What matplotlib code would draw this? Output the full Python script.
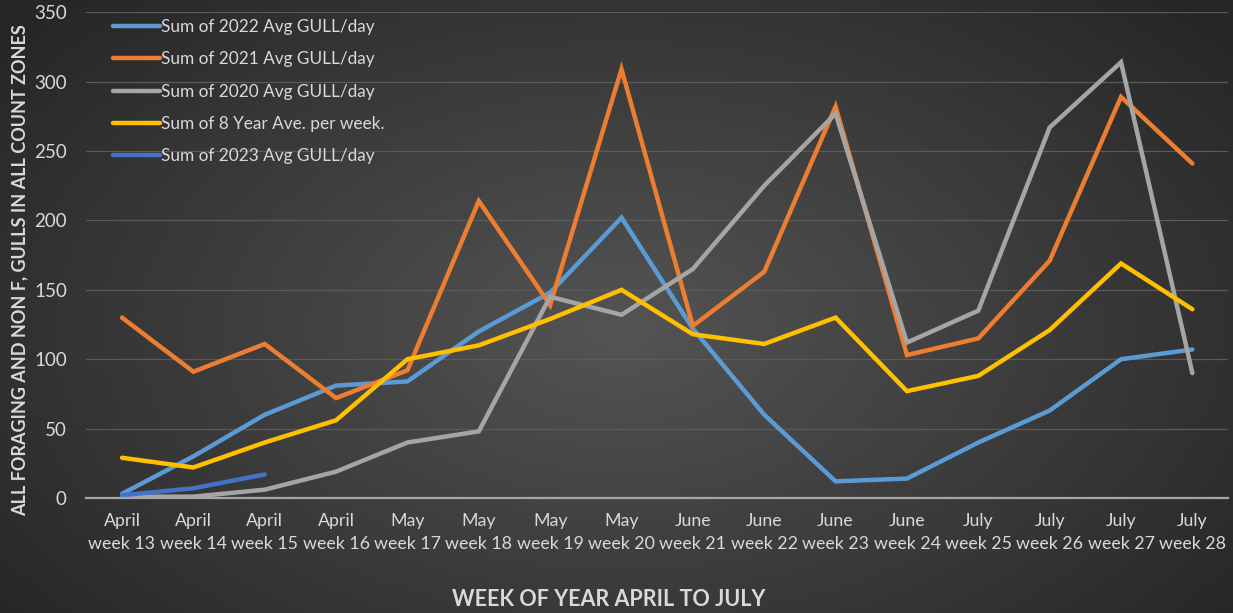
import numpy as np
import matplotlib.pyplot as plt

# Haftalık martı sayıları
months = ["April"] * 4 + ["May"] * 4 + ["June"] * 4 + ["July"] * 4
weeks = list(range(13, 29))
tick_labels = [f"{m}\nweek {w}" for m, w in zip(months, weeks)]

gull_2022 = [3, 30, 60, 81, 84, 120, 148, 202, 122, 60, 12, 14, 40, 63, 100, 107]
gull_2021 = [130, 91, 111, 72, 92, 214, 139, 309, 124, 163, 282, 103, 115, 171, 289, 241]
gull_2020 = [1, 1, 6, 19, 40, 48, 145, 132, 165, 225, 277, 112, 135, 267, 314, 90]
avg_8yr = [29, 22, 40, 56, 100, 110, 129, 150, 118, 111, 130, 77, 88, 121, 169, 136]
gull_2023 = [2, 7, 17]

series = [
    ("Sum of 2022 Avg GULL/day", gull_2022, "#5B9BD5"),
    ("Sum of 2021 Avg GULL/day", gull_2021, "#ED7D31"),
    ("Sum of 2020 Avg GULL/day", gull_2020, "#A5A5A5"),
    ("Sum of 8 Year Ave. per week.", avg_8yr, "#FFC000"),
    ("Sum of 2023 Avg GULL/day", gull_2023, "#4472C4"),
]

plt.rcParams['font.family'] = ['Lato', 'DejaVu Sans']
text_col = "#D9D9D9"

fig = plt.figure(figsize=(12.33, 6.13), dpi=100)

# koyu radyal arka plan
bg = fig.add_axes([0, 0, 1, 1], zorder=0)
yy, xx = np.mgrid[0:613, 0:1233]
r = np.sqrt(((xx - 620) / 700) ** 2 + ((yy - 330) / 420) ** 2)
shade = np.clip(0.33 - 0.16 * r, 0.15, 0.33)
bg.imshow(np.dstack([shade] * 3), aspect='auto', extent=[0, 1, 0, 1])
bg.axis('off')

ax = fig.add_axes([0.0700, 0.1876, 0.9260, 0.7924], zorder=1)
ax.patch.set_alpha(0)

x = np.arange(len(weeks))
for label, vals, col in series:
    ax.plot(x[:len(vals)], vals, color=col, lw=3.2, label=label,
            solid_capstyle='round', solid_joinstyle='miter')

ax.set_xlim(-0.5, len(weeks) - 0.5)
ax.set_ylim(0, 350)
ax.set_yticks(range(0, 351, 50))
ax.set_xticks(x)
ax.set_xticklabels(tick_labels, fontsize=12.8, color=text_col, linespacing=1.5)
ax.tick_params(axis='y', labelsize=13.5, colors=text_col, length=0, pad=14)
ax.tick_params(axis='x', length=0, pad=11)

ax.grid(axis='y', color='#5a5a5a', lw=0.9)
ax.set_axisbelow(True)
for s in ['top', 'right', 'left']:
    ax.spines[s].set_visible(False)
ax.spines['bottom'].set_color('#A6A6A6')
ax.spines['bottom'].set_linewidth(1.6)

ax.set_ylabel("ALL FORAGING AND NON F, GULLS IN ALL COUNT ZONES",
              fontsize=13, fontweight='bold', color=text_col)
ax.yaxis.set_label_coords(-0.051, 0.47)
fig.text(0.494, 0.012, "WEEK OF YEAR APRIL TO JULY", fontsize=15.5,
         fontweight='bold', color=text_col, ha='center')

leg = ax.legend(loc='upper left', bbox_to_anchor=(0.01, 1.018), frameon=False,
                fontsize=12.4, handlelength=2.7, handletextpad=0.1,
                labelspacing=0.95, labelcolor=text_col)

fig.savefig("out.png", dpi=100, facecolor='#333333')
